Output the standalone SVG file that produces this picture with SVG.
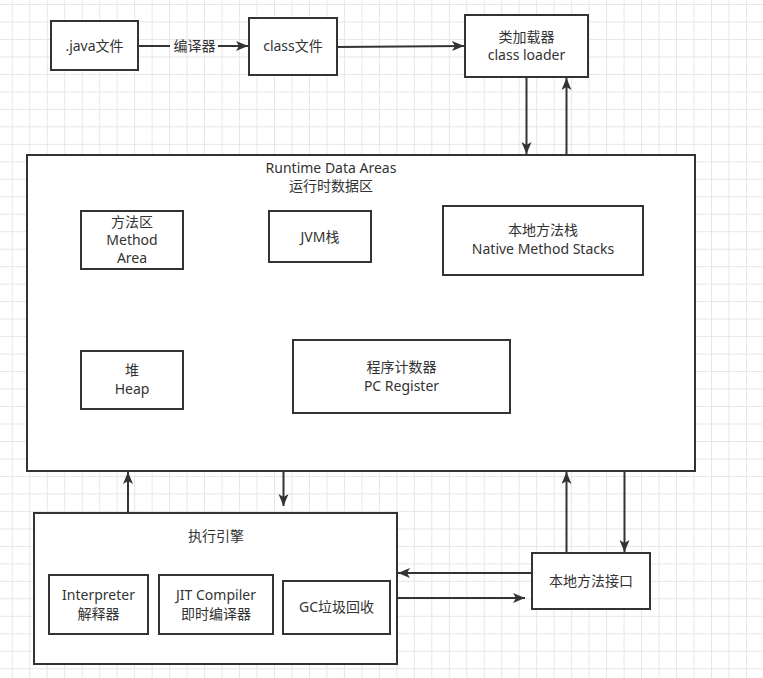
<svg xmlns="http://www.w3.org/2000/svg" width="763" height="678" viewBox="0 0 763 678">
<style>
.box{fill:#fff;stroke:#333;stroke-width:2}
.t{font-family:"Noto Sans","Noto Sans CJK SC","Liberation Sans",sans-serif;font-size:14px;fill:#333;text-anchor:middle}
.c{fill:none;stroke:#333;stroke-width:2}
</style>
<defs>
<pattern id="grid" patternUnits="userSpaceOnUse" x="11.8" y="4" width="17.48" height="17.48">
<path d="M0 0.5H17.48M0.5 0V17.48" fill="none" stroke="#e6e6e6" stroke-width="1"/>
</pattern>
<marker id="ah" markerUnits="userSpaceOnUse" markerWidth="14" markerHeight="12" refX="12" refY="5" orient="auto">
<path d="M0 0L12 5L0 10L3 5Z" fill="#333"/>
</marker>
</defs>
<rect width="763" height="678" fill="#fff"/>
<rect width="763" height="678" fill="url(#grid)"/>

<g id="java"><rect class="box" x="51" y="21" width="87" height="49"/><text class="t" x="94.5" y="51">.java文件</text></g>
<g id="classfile"><rect class="box" x="249" y="18" width="88" height="57"/><text class="t" x="293" y="51">class文件</text></g>
<g id="loader"><rect class="box" x="465" y="15" width="123" height="62"/><text class="t" x="526.5" y="42">类加载器</text><text class="t" x="526.5" y="60">class loader</text></g>

<g id="runtime"><rect class="box" x="27" y="155" width="668" height="316"/><text class="t" x="331" y="173">Runtime Data Areas</text><text class="t" x="331" y="191">运行时数据区</text></g>
<g id="method"><rect class="box" x="81" y="211" width="102" height="58"/><text class="t" x="132" y="227" font-size="13.5">方法区</text><text class="t" x="132" y="245" font-size="13.5">Method</text><text class="t" x="132" y="263" font-size="13.5">Area</text></g>
<g id="jvmstack"><rect class="box" x="269" y="211" width="102" height="51"/><text class="t" x="320" y="242">JVM栈</text></g>
<g id="nativestack"><rect class="box" x="443" y="206" width="200" height="69"/><text class="t" x="543" y="235">本地方法栈</text><text class="t" x="543" y="254">Native Method Stacks</text></g>
<g id="heap"><rect class="box" x="81" y="351" width="102" height="58"/><text class="t" x="132" y="375">堆</text><text class="t" x="132" y="394">Heap</text></g>
<g id="pc"><rect class="box" x="293" y="340" width="217" height="73"/><text class="t" x="401.5" y="372">程序计数器</text><text class="t" x="401.5" y="391">PC Register</text></g>

<g id="engine"><rect class="box" x="34" y="513" width="363" height="151"/><text class="t" x="216" y="541">执行引擎</text></g>
<g id="interp"><rect class="box" x="49" y="575" width="99" height="59"/><text class="t" x="98.5" y="600">Interpreter</text><text class="t" x="98.5" y="619">解释器</text></g>
<g id="jit"><rect class="box" x="159" y="575" width="114" height="59"/><text class="t" x="216" y="600">JIT Compiler</text><text class="t" x="216" y="619">即时编译器</text></g>
<g id="gc"><rect class="box" x="283" y="581" width="107" height="53"/><text class="t" x="336.5" y="612">GC垃圾回收</text></g>
<g id="jni"><rect class="box" x="532" y="553" width="118" height="56"/><text class="t" x="591" y="586">本地方法接口</text></g>

<g id="connectors">
<path class="c" d="M138 46H170M218 46H248" marker-end="url(#ah)"/>
<text class="t" x="194.5" y="51">编译器</text>
<path class="c" d="M337 47L464 46" marker-end="url(#ah)"/>
<path class="c" d="M526.5 77V154" marker-end="url(#ah)"/>
<path class="c" d="M566.5 155V78" marker-end="url(#ah)"/>
<path class="c" d="M128 513V472" marker-end="url(#ah)"/>
<path class="c" d="M283.5 471V506" marker-end="url(#ah)"/>
<path class="c" d="M566.5 553V472" marker-end="url(#ah)"/>
<path class="c" d="M624.5 471V552" marker-end="url(#ah)"/>
<path class="c" d="M532 573H398" marker-end="url(#ah)"/>
<path class="c" d="M397 598H525" marker-end="url(#ah)"/>
</g>
</svg>
